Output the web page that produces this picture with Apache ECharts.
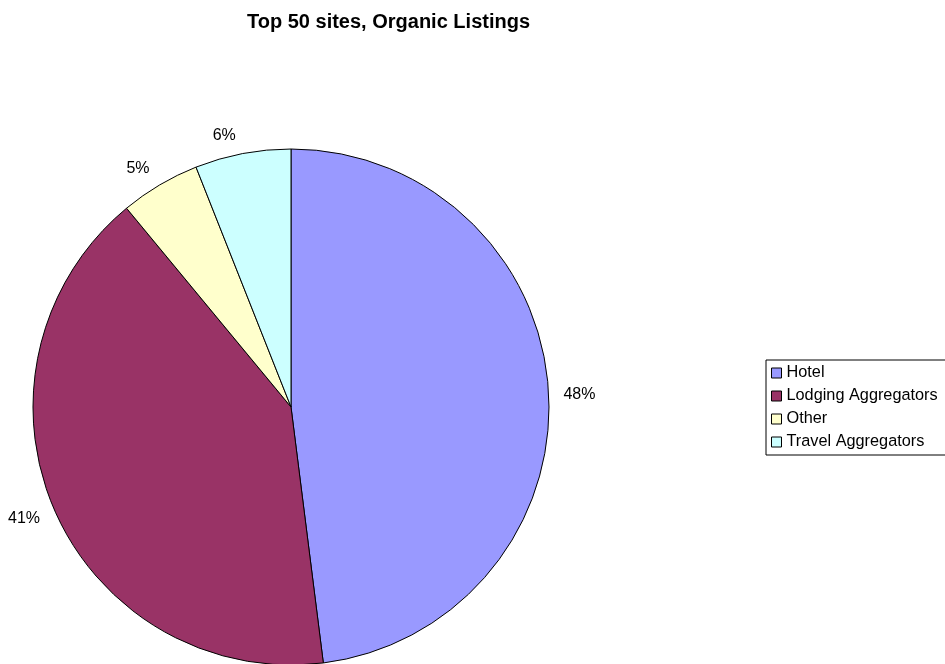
<!DOCTYPE html>
<html>
<head>
<meta charset="utf-8">
<script src="https://cdn.jsdelivr.net/npm/echarts@6/dist/echarts.min.js"></script>
<style>
  html, body { margin: 0; padding: 0; background: #fff; }
  #chart { width: 945px; height: 664px; }
</style>
</head>
<body>
<div id="chart"></div>
<script>
const categories = ['Hotel', 'Lodging Aggregators', 'Other', 'Travel Aggregators'];
const shares = [48, 41, 5, 6];
const colors = ['#9999ff', '#993366', '#ffffcc', '#ccffff'];

const chart = echarts.init(document.getElementById('chart'));
const font = '"Liberation Sans", Arial, sans-serif';

chart.setOption({
  animation: false,
  backgroundColor: '#fff',
  title: {
    text: 'Top 50 sites, Organic Listings',
    left: 242,
    top: 7,
    textStyle: { fontFamily: font, fontSize: 20, fontWeight: 'bold', color: '#000' }
  },
  legend: {
    orient: 'vertical',
    left: 766,
    top: 360,
    padding: [5, 20, 5, 5],
    itemWidth: 10,
    itemHeight: 10,
    itemGap: 7,
    borderColor: '#000',
    borderWidth: 1,
    icon: 'rect',
    itemStyle: { borderColor: '#000', borderWidth: 1 },
    textStyle: { fontFamily: font, fontSize: 16.3, color: '#000' },
    data: categories
  },
  series: [{
    type: 'pie',
    center: [291, 407],
    radius: 258,
    startAngle: 90,
    clockwise: true,
    emphasis: { disabled: true },
    itemStyle: { borderColor: '#000', borderWidth: 1 },
    label: {
      show: true,
      position: 'outside',
      formatter: '{c}%',
      fontFamily: font,
      fontSize: 16,
      color: '#000',
      overflow: 'none'
    },
    labelLine: { show: false, length: 10, length2: 0 },
    labelLayout: function (p) {
      // Excel sets its labels a little higher at the top and lower at the left
      return { dy: p.dataIndex === 1 ? 5 : (p.dataIndex === 0 ? 4 : -8) };
    },
    data: categories.map((name, i) => ({
      name: name,
      value: shares[i],
      itemStyle: { color: colors[i] }
    }))
  }]
});
</script>
</body>
</html>
